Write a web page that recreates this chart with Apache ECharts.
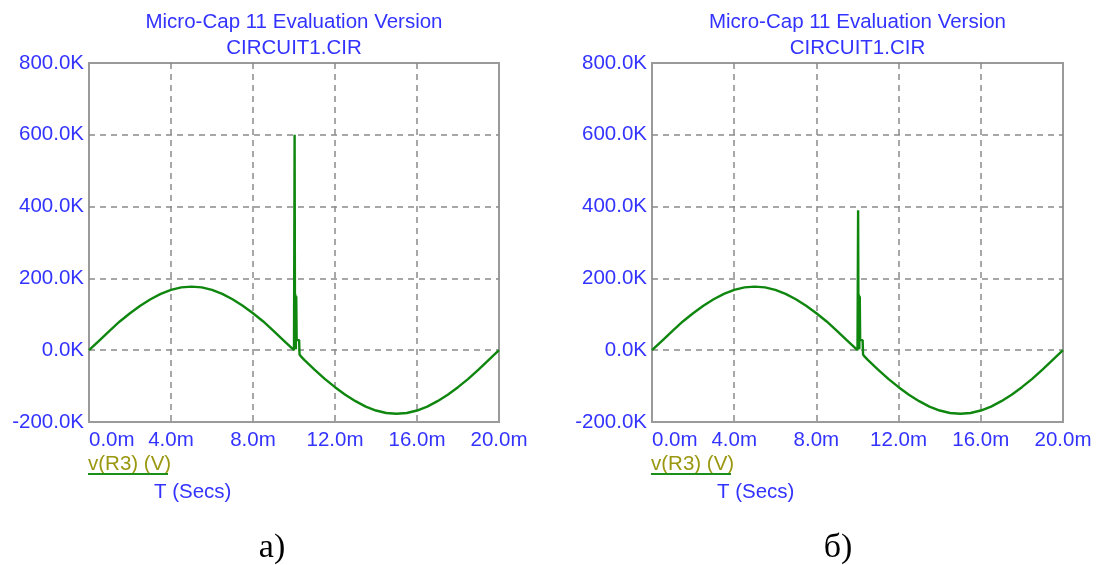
<!DOCTYPE html>
<html>
<head>
<meta charset="utf-8">
<script src="https://cdn.jsdelivr.net/npm/echarts@6/dist/echarts.min.js"></script>
<style>
html,body{margin:0;padding:0;background:#fff;}
#chart{width:1096px;height:565px;}
</style>
</head>
<body>
<div id="chart"></div>
<script>
// Time in ms
const timeMs = [0, 0.5, 1, 1.5, 2, 2.5, 3, 3.5, 4, 4.5, 5, 5.5, 6, 6.5, 7, 7.5, 8, 8.5, 9, 9.5,
  10.0, 10.03, 10.05, 10.07, 10.09, 10.11, 10.13, 10.25, 10.27, 10.35, 10.5,
  11, 11.5, 12, 12.5, 13, 13.5, 14, 14.5, 15, 15.5, 16, 16.5, 17, 17.5, 18, 18.5, 19, 19.5, 20];
// v(R3) in kV, chart a)
const vA = [0, 27, 54, 80, 103, 124, 142, 157, 168, 175, 177, 175, 168, 157, 142, 124, 103, 80, 54, 27,
  0, 600, 5, 155, 3, 150, 28, 28, -12, -18, -27,
  -54, -80, -103, -124, -142, -157, -168, -175, -177, -175, -168, -157, -142, -124, -103, -80, -54, -27, 0];
// v(R3) in kV, chart b)
const vB = [0, 27, 54, 80, 103, 124, 142, 157, 168, 175, 177, 175, 168, 157, 142, 124, 103, 80, 54, 27,
  0, 390, 5, 155, 3, 150, 28, 28, -12, -18, -27,
  -54, -80, -103, -124, -142, -157, -168, -175, -177, -175, -168, -157, -142, -124, -103, -80, -54, -27, 0];
const xTicks = [0, 4, 8, 12, 16, 20];
const yTicks = [-200, 0, 200, 400, 600, 800];
const titleLines = ['Micro-Cap 11 Evaluation Version', 'CIRCUIT1.CIR'];
const legendText = 'v(R3) (V)';
const xAxisName = 'T (Secs)';
const panelLabels = ['а)', 'б)'];

const BLUE = '#3333ff';
const FONT = '"Liberation Sans", Arial, sans-serif';
const FS = 20.5;

const panels = [
  {left: 89, width: 410, data: vA, label: panelLabels[0], labelX: 272},
  {left: 652, width: 411, data: vB, label: panelLabels[1], labelX: 838}
];
const TOP = 63, HEIGHT = 359;

const chart = echarts.init(document.getElementById('chart'), null, {renderer: 'canvas'});

const option = {
  backgroundColor: '#ffffff',
  animation: false,
  grid: [],
  xAxis: [],
  yAxis: [],
  series: [],
  graphic: []
};

panels.forEach((p, i) => {
  const cx = p.left + p.width / 2;
  option.grid.push({
    left: p.left, top: TOP, width: p.width, height: HEIGHT,
    show: true, borderColor: '#9a9a9a', borderWidth: 2, backgroundColor: '#fff'
  });
  option.xAxis.push({
    type: 'value', gridIndex: i, min: xTicks[0], max: xTicks[xTicks.length - 1], interval: 4,
    axisLine: {show: false}, axisTick: {show: false},
    axisLabel: {
      show: true, color: BLUE, fontFamily: FONT, fontSize: FS, margin: 8,
      showMinLabel: true, showMaxLabel: true, alignMinLabel: 'left',
      formatter: v => v.toFixed(1) + 'm'
    },
    splitLine: {show: true, showMinLine: false, showMaxLine: false,
      lineStyle: {color: '#8a8a8a', width: 1.5, type: [6, 5]}}
  });
  option.yAxis.push({
    type: 'value', gridIndex: i, min: yTicks[0], max: yTicks[yTicks.length - 1], interval: 200,
    axisLine: {show: false}, axisTick: {show: false},
    axisLabel: {
      show: true, color: BLUE, fontFamily: FONT, fontSize: FS, margin: 5,
      showMinLabel: true, showMaxLabel: true,
      formatter: v => v.toFixed(1) + 'K'
    },
    splitLine: {show: true, showMinLine: false, showMaxLine: false,
      lineStyle: {color: '#8a8a8a', width: 1.5, type: [6, 5]}}
  });
  option.series.push({
    type: 'line', xAxisIndex: i, yAxisIndex: i,
    data: timeMs.map((t, k) => [t, p.data[k]]),
    showSymbol: false, symbol: 'none',
    lineStyle: {color: '#0f870f', width: 2.4},
    clip: true
  });
  option.graphic.push(
    {type: 'text', x: cx, y: 22, style: {text: titleLines[0], fill: BLUE, font: FS + 'px ' + FONT, align: 'center', verticalAlign: 'middle'}},
    {type: 'text', x: cx, y: 48, style: {text: titleLines[1], fill: BLUE, font: FS + 'px ' + FONT, align: 'center', verticalAlign: 'middle'}},
    {type: 'text', x: p.left - 1, y: 464, style: {text: legendText, fill: '#9a9810', font: FS + 'px ' + FONT, align: 'left', verticalAlign: 'middle'}},
    {type: 'rect', x: p.left - 1, y: 473, shape: {width: 80, height: 2}, style: {fill: '#1a8f1a'}},
    {type: 'text', x: p.left + 65, y: 492, style: {text: xAxisName, fill: BLUE, font: FS + 'px ' + FONT, align: 'left', verticalAlign: 'middle'}},
    {type: 'text', x: p.labelX, y: 548, style: {text: p.label, fill: '#000', font: '34px "Liberation Serif", "Times New Roman", serif', align: 'center', verticalAlign: 'middle'}}
  );
});

chart.setOption(option);
</script>
</body>
</html>
